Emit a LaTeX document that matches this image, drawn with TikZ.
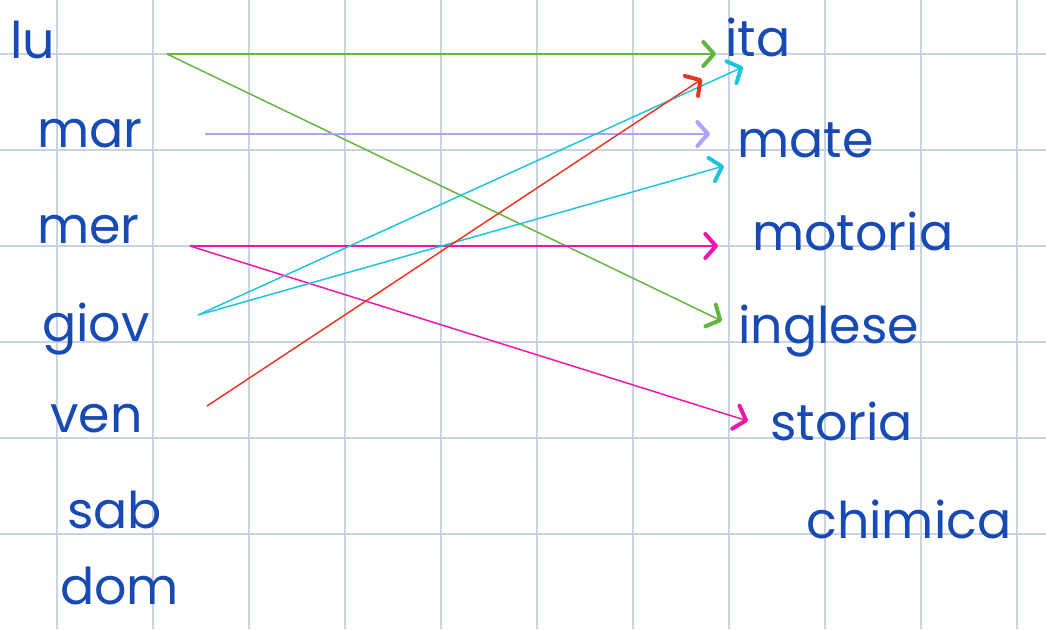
\documentclass[tikz,border=0pt]{standalone}
\usepackage{fontspec}
\setmainfont{Poppins}
\usetikzlibrary{arrows.meta}
\definecolor{gridc}{RGB}{201,211,226}
\definecolor{ink}{RGB}{24,74,180}
\definecolor{pgreen}{RGB}{98,182,62}
\definecolor{plilac}{RGB}{178,160,250}
\definecolor{pcyan}{RGB}{28,196,222}
\definecolor{pmag}{RGB}{238,22,170}
\definecolor{pred}{RGB}{236,52,36}
\begin{document}
\begin{tikzpicture}[x=0.75pt,y=-0.75pt,
  lbl/.style={text=ink, font=\fontsize{38}{42}\selectfont, anchor=base west, inner sep=0pt},
  arr/.style={line width=1.1pt, -{Straight Barb[length=8pt,width=18pt,line width'=3pt,round]}}]
\useasboundingbox (0,0) rectangle (1046,629);
\fill[white] (0,0) rectangle (1046,629);
\foreach \k in {0,...,10} \draw[gridc, line width=1.5pt] (57+96*\k,0)--(57+96*\k,629);
\foreach \k in {0,...,5} \draw[gridc, line width=1.5pt] (0,54+96*\k)--(1046,54+96*\k);

% days
\node[lbl] (lu) at (10,58) {lu};
\node[lbl] (mar) at (37,147) {mar};
\node[lbl] (mer) at (37,243) {mer};
\node[lbl] (giov) at (42,341) {giov};
\node[lbl] (ven) at (50,432) {ven};
\node[lbl] (sab) at (67,528) {sab};
\node[lbl] (dom) at (60,604) {dom};

% subjects
\node[lbl] (ita) at (725,56) {ita};
\node[lbl] (mate) at (737,157) {mate};
\node[lbl] (motoria) at (752,250) {motoria};
\node[lbl] (inglese) at (738,343) {inglese};
\node[lbl] (storia) at (770,440) {storia};
\node[lbl] (chimica) at (806,538) {chimica};

% line ends
\coordinate (lu-o) at (167,54); \coordinate (mar-o) at (205,134);
\coordinate (mer-o) at (190,246); \coordinate (giov-o) at (198,315);
\coordinate (ven-o) at (207,406);
\coordinate (ita-a) at (716,54); \coordinate (ita-b) at (743,67); \coordinate (ita-c) at (702,79);
\coordinate (mate-a) at (710,134); \coordinate (mate-b) at (724,166);
\coordinate (motoria-a) at (718,246); \coordinate (inglese-a) at (722,321);
\coordinate (storia-a) at (748,421);

\draw[arr, pgreen] (lu-o)--(ita-a);
\draw[arr, pgreen] (lu-o)--(inglese-a);
\draw[arr, plilac] (mar-o)--(mate-a);
\draw[arr, pmag] (mer-o)--(motoria-a);
\draw[arr, pmag] (mer-o)--(storia-a);
\draw[arr, pcyan] (giov-o)--(ita-b);
\draw[arr, pcyan] (giov-o)--(mate-b);
\draw[arr, pred] (ven-o)--(ita-c);
\end{tikzpicture}
\end{document}
